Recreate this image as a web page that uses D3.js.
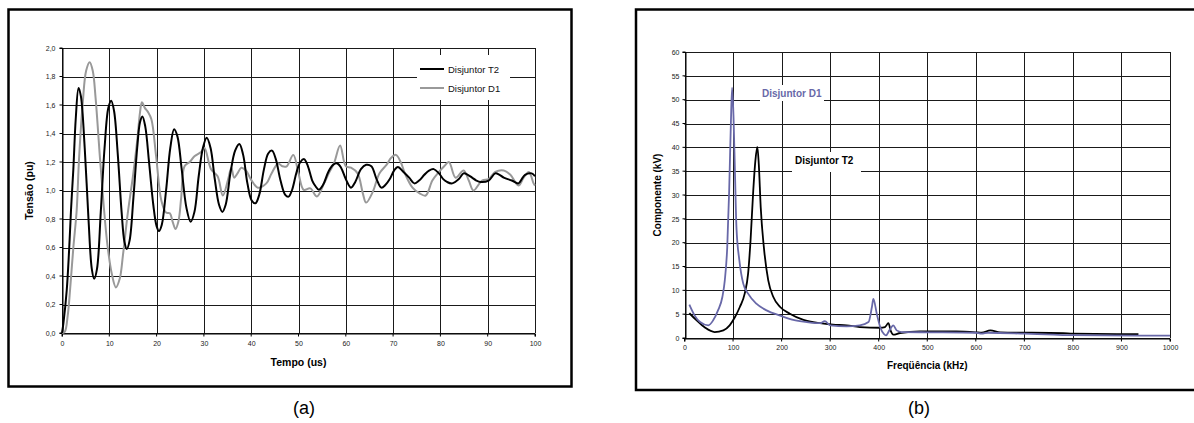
<!DOCTYPE html>
<html>
<head>
<meta charset="utf-8">
<script src="https://cdn.jsdelivr.net/npm/d3@7/dist/d3.min.js"></script>
<style>
  html, body { margin: 0; padding: 0; background: #fff; }
  svg { display: block; font-family: "Liberation Sans", Arial, sans-serif; }
</style>
</head>
<body>
<svg id="chart" width="1194" height="423"></svg>
<script>
// ---------- (a) Tensão transitória de restabelecimento ----------
const tempoT2 = [0,0.3,1.0,1.5,1.9,2.4,2.9,3.5,4.0,4.8,5.6,6.3,6.8,7.4,8.2,9.0,9.8,10.4,11.0,11.8,12.6,13.2,13.7,14.3,15.1,15.9,16.5,17.0,17.6,18.4,19.3,20.0,20.5,21.1,22.0,22.9,23.7,24.4,25.3,26.3,27.2,28.0,28.9,29.8,30.6,31.4,32.3,33.2,33.9,34.6,35.6,36.6,37.5,38.3,39.2,40.1,40.9,41.7,42.7,43.6,44.4,45.2,46.2,47.2,47.9,48.6,49.6,50.4,51.2,52.0,52.9,53.6,54.3,55.2,56.3,57.3,58.2,59.0,60.0,61.1,62.0,63.2,64.3,65.4,66.5,67.5,68.4,69.3,70.2,71.0,72.2,73.4,74.5,75.5,76.6,77.6,78.6,79.7,80.6,81.4,82.5,83.9,84.9,85.8,86.7,87.6,88.5,90.2,91.6,92.5,93.4,95.1,96.5,97.2,97.9,99.3,100];
const tensaoT2 = [0,0.07,0.30,0.58,0.86,1.15,1.50,1.72,1.66,1.30,0.80,0.45,0.38,0.45,0.85,1.30,1.58,1.63,1.56,1.25,0.85,0.64,0.59,0.65,0.95,1.30,1.48,1.52,1.45,1.20,0.90,0.75,0.715,0.76,1.00,1.30,1.43,1.38,1.15,0.88,0.78,0.85,1.10,1.30,1.37,1.30,1.08,0.90,0.85,0.90,1.12,1.28,1.327,1.25,1.05,0.93,0.91,0.97,1.15,1.26,1.28,1.22,1.07,0.97,0.957,1.00,1.13,1.20,1.22,1.17,1.07,1.03,1.005,1.04,1.13,1.18,1.19,1.16,1.08,1.02,1.06,1.15,1.18,1.17,1.08,1.02,1.04,1.08,1.14,1.165,1.13,1.09,1.05,1.07,1.11,1.14,1.15,1.12,1.08,1.06,1.05,1.08,1.12,1.11,1.09,1.07,1.06,1.07,1.12,1.11,1.09,1.07,1.05,1.08,1.11,1.12,1.10];

const tempoD1 = [0,0.6,1.2,1.7,2.4,3.1,3.6,4.4,5.1,5.85,6.5,7.1,8.0,8.8,9.6,10.5,11.4,12.2,12.9,13.9,15.0,15.9,16.5,16.9,17.5,18.2,18.9,19.9,21.0,22.0,22.8,23.4,24.0,24.6,25.2,25.9,27.0,28.0,29.4,30.1,31.5,32.9,34.0,35.1,35.8,36.4,37.1,37.9,38.9,40.0,41.4,43.2,44.3,45.7,46.6,47.5,48.9,50.0,51.1,52.5,53.9,55.4,56.4,57.5,58.8,60.0,61.1,62.5,63.6,64.3,65.7,67.1,68.6,69.6,70.6,71.6,72.5,74.1,75.6,76.9,78.3,79.7,80.8,81.8,83.2,84.9,86.0,87.0,88.8,90.2,91.6,93.4,94.8,96.5,97.6,98.7,99.7,100];
const tensaoD1 = [0,0.01,0.12,0.30,0.60,0.86,1.22,1.62,1.84,1.90,1.84,1.65,1.24,0.90,0.62,0.42,0.32,0.38,0.55,0.84,1.10,1.35,1.55,1.62,1.58,1.55,1.50,1.24,0.93,0.845,0.84,0.78,0.73,0.78,0.95,1.17,1.20,1.24,1.27,1.30,1.15,1.10,0.965,1.075,1.16,1.09,1.12,1.16,1.14,1.075,1.02,1.05,1.12,1.19,1.17,1.17,1.25,1.12,1.005,1.015,0.958,1.05,1.12,1.19,1.315,1.17,1.16,1.12,0.98,0.915,0.99,1.12,1.18,1.23,1.25,1.20,1.12,1.02,0.98,0.965,1.07,1.13,1.17,1.20,1.09,1.14,1.07,1.00,1.07,1.08,1.13,1.14,1.11,1.035,1.09,1.13,1.05,1.035];

const tempoTicks = [0,10,20,30,40,50,60,70,80,90,100];
const tensaoTicks = [0,0.2,0.4,0.6,0.8,1.0,1.2,1.4,1.6,1.8,2.0];

// ---------- (b) Espectro de frequência ----------
const freqT2 = [10,25,42,62,80,93,104,114,124,131,136,141.6,146,150,153,157,163.5,172.5,183,197,217,245,279,306,334,361,403,413,420,425,430,444,485,560,600,612,630,650,780,800,935];
const compT2 = [5.2,3.7,2.2,1.25,1.6,2.65,4.4,6.5,9.3,13.5,20.4,30.9,37.2,40.1,36.5,27.4,19,12.1,8.6,6.5,5.1,3.8,3.1,2.8,2.65,2.3,2.15,2.3,3.1,1.45,0.7,1.05,1.4,1.4,1.2,1.1,1.6,1.2,1.0,0.9,0.8];

const freqD1 = [10,21,32,49,59,69,78,83,88,92,95.5,98,101,104,107,113,121,131,148,169,197,224,252,279,289,300,334,361,379,386,389,396,403,411,415,422,430,437,447,500,600,612,625,700,760,800,1000];
const compD1 = [7.0,4.7,3.35,2.65,3.7,5.8,8.6,12.1,19,30.9,44.9,52.5,46.3,34.4,23.2,16.3,11.4,9.3,7.2,5.8,4.7,3.8,3.35,3.1,3.55,2.65,2.45,2.65,3.35,6.5,8.2,5.1,2.3,0.8,0.55,1.6,2.65,1.6,1.25,1.2,1.1,0.9,1.1,0.9,0.7,0.6,0.5];

const freqTicks = [0,100,200,300,400,500,600,700,800,900,1000];
const compTicks = [0,5,10,15,20,25,30,35,40,45,50,55,60];

const svg = d3.select("#chart");
const virgula = d3.format(".1f");

// outer frames of both panels
svg.append("rect").attr("x", 8.5).attr("y", 9.5).attr("width", 563).attr("height", 377)
  .attr("fill", "none").attr("stroke", "#000").attr("stroke-width", 2.5);
svg.append("rect").attr("x", 636).attr("y", 9.5).attr("width", 570).attr("height", 380.5)
  .attr("fill", "none").attr("stroke", "#000").attr("stroke-width", 2.5);

function panel(o) {
  const g = svg.append("g");
  const x = d3.scaleLinear().domain(o.xDomain).range([o.left, o.right]);
  const y = d3.scaleLinear().domain(o.yDomain).range([o.bottom, o.top]);

  // grid
  g.append("g").selectAll("line").data(o.yTicks).join("line")
    .attr("x1", o.left).attr("x2", o.right)
    .attr("y1", d => Math.round(y(d)) + 0.5).attr("y2", d => Math.round(y(d)) + 0.5)
    .attr("stroke", "#1a1a1a").attr("stroke-width", 1);
  g.append("g").selectAll("line").data(o.xTicks).join("line")
    .attr("y1", o.top).attr("y2", o.bottom)
    .attr("x1", d => Math.round(x(d)) + 0.5).attr("x2", d => Math.round(x(d)) + 0.5)
    .attr("stroke", "#1a1a1a").attr("stroke-width", 1);

  // axes
  const ax = g.append("g").attr("transform", `translate(0,${Math.round(o.bottom) + 0.5})`)
    .call(d3.axisBottom(x).tickValues(o.xTicks).tickSize(3).tickPadding(o.xPad).tickFormat(d3.format("d")));
  const ay = g.append("g").attr("transform", `translate(${Math.round(o.left) + 0.5},0)`)
    .call(d3.axisLeft(y).tickValues(o.yTicks).tickSize(3).tickPadding(o.yPad).tickFormat(o.yFormat));
  [ax, ay].forEach(a => {
    a.select(".domain").attr("stroke", "#000");
    a.selectAll(".tick line").attr("stroke", "#000");
    a.selectAll("text").attr("font-size", 7).attr("fill", "#222")
      .attr("font-family", "'Liberation Sans', Arial, sans-serif");
  });
  ax.selectAll(".tick line").attr("transform", "translate(-0.5,0)");
  ay.selectAll(".tick line").attr("transform", "translate(0,-0.5)");

  // axis titles
  g.append("text").attr("x", (o.left + o.right) / 2).attr("y", o.xTitleY)
    .attr("text-anchor", "middle").attr("font-weight", "bold").attr("font-size", o.titleSize)
    .text(o.xTitle);
  g.append("text").attr("transform", `translate(${o.yTitleX},${(o.top + o.bottom) / 2}) rotate(-90)`)
    .attr("text-anchor", "middle").attr("font-weight", "bold").attr("font-size", o.titleSize)
    .text(o.yTitle);

  return { g, x, y };
}

// ---------- panel (a) ----------
const pa = panel({
  left: 62, right: 535, top: 48, bottom: 333,
  xDomain: [0, 100], yDomain: [0, 2],
  xTicks: tempoTicks, yTicks: tensaoTicks,
  yFormat: d => virgula(d).replace(".", ","),
  xPad: 5, yPad: 4,
  xTitle: "Tempo (us)", yTitle: "Tensão (pu)",
  xTitleY: 366, yTitleX: 33, titleSize: 10.5
});

// legend box masks the grid beneath
pa.g.append("rect").attr("x", 417).attr("y", 55).attr("width", 93).attr("height", 45).attr("fill", "#fff");

const lineA = (xs, ys) => d3.line()
  .x((d, i) => pa.x(xs[i])).y((d, i) => pa.y(ys[i]))
  .curve(d3.curveCatmullRom.alpha(0.5))(ys);

pa.g.append("path").attr("d", lineA(tempoD1, tensaoD1))
  .attr("fill", "none").attr("stroke", "#999").attr("stroke-width", 2);
pa.g.append("path").attr("d", lineA(tempoT2, tensaoT2))
  .attr("fill", "none").attr("stroke", "#000").attr("stroke-width", 2);

const legendA = [
  { nome: "Disjuntor T2", cor: "#000", y: 69 },
  { nome: "Disjuntor D1", cor: "#999", y: 88 }
];
legendA.forEach(l => {
  pa.g.append("line").attr("x1", 420).attr("x2", 444).attr("y1", l.y).attr("y2", l.y)
    .attr("stroke", l.cor).attr("stroke-width", 2);
  pa.g.append("text").attr("x", 448).attr("y", l.y + 3.5).attr("font-size", 9.5)
    .attr("fill", "#111").text(l.nome);
});

// ---------- panel (b) ----------
const pb = panel({
  left: 684.5, right: 1170, top: 52, bottom: 338,
  xDomain: [0, 1000], yDomain: [0, 60],
  xTicks: freqTicks, yTicks: compTicks,
  yFormat: d3.format("d"),
  xPad: 4, yPad: 3,
  xTitle: "Freqüência (kHz)", yTitle: "Componente (kV)",
  xTitleY: 369, yTitleX: 661, titleSize: 10
});

const roxo = "#6868a8";

// label plates mask the grid beneath
pb.g.append("rect").attr("x", 760).attr("y", 85).attr("width", 64).attr("height", 16).attr("fill", "#fff");
pb.g.append("rect").attr("x", 792).attr("y", 152).attr("width", 69).attr("height", 20).attr("fill", "#fff");

const lineB = (xs, ys) => d3.line()
  .x((d, i) => pb.x(xs[i])).y((d, i) => pb.y(ys[i]))
  .curve(d3.curveMonotoneX)(ys);

pb.g.append("path").attr("d", lineB(freqT2, compT2))
  .attr("fill", "none").attr("stroke", "#000").attr("stroke-width", 1.8);
pb.g.append("path").attr("d", lineB(freqD1, compD1))
  .attr("fill", "none").attr("stroke", roxo).attr("stroke-width", 1.8);

pb.g.append("text").attr("x", 762).attr("y", 97).attr("font-size", 10).attr("font-weight", "bold")
  .attr("fill", roxo).text("Disjuntor D1");
pb.g.append("text").attr("x", 795).attr("y", 164).attr("font-size", 10).attr("font-weight", "bold")
  .attr("fill", "#000").text("Disjuntor T2");

// ---------- captions ----------
svg.append("text").attr("x", 304).attr("y", 414).attr("text-anchor", "middle").attr("font-size", 18).text("(a)");
svg.append("text").attr("x", 919).attr("y", 414).attr("text-anchor", "middle").attr("font-size", 18).text("(b)");
</script>
</body>
</html>
